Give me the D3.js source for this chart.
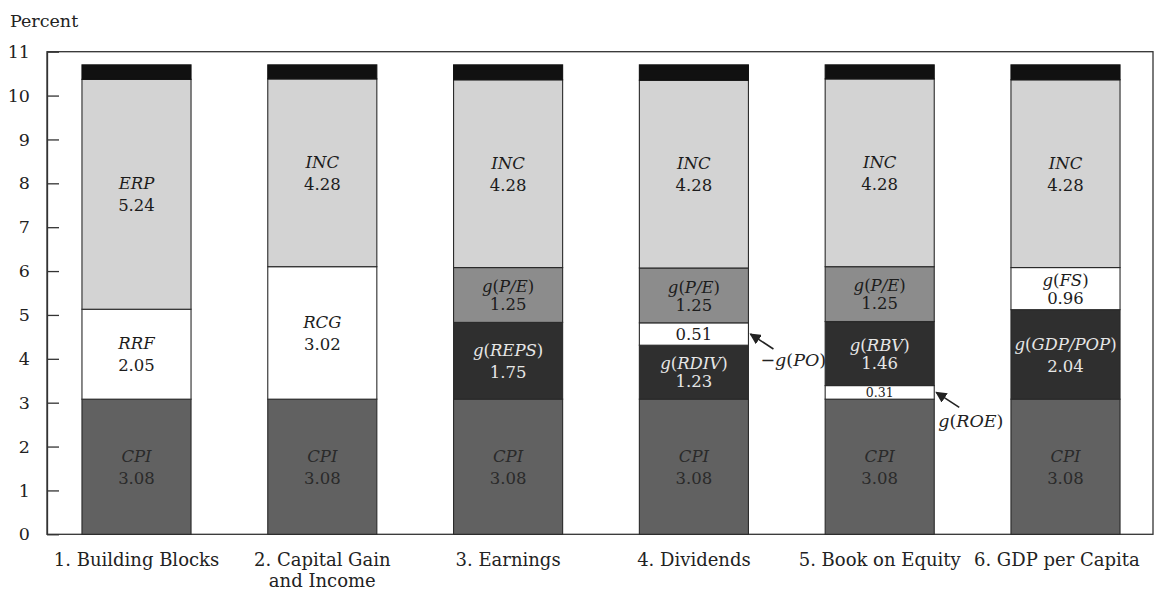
<!DOCTYPE html>
<html>
<head>
<meta charset="utf-8">
<script src="https://cdn.jsdelivr.net/npm/d3@7"></script>
<style>
  html, body { margin: 0; padding: 0; background: #ffffff; }
  svg { display: block; }
  text { font-family: "DejaVu Serif", "Liberation Serif", serif; }
</style>
</head>
<body>
<svg id="chart" width="1155" height="593"></svg>
<script>
// ---------- DATA ----------
const categories = [
  "1. Building Blocks",
  "2. Capital Gain\nand Income",
  "3. Earnings",
  "4. Dividends",
  "5. Book on Equity",
  "6. GDP per Capita"
];
// segments listed bottom to top for each bar
const segmentLabels = [
  ["CPI", "RRF", "ERP"],
  ["CPI", "RCG", "INC"],
  ["CPI", "g(REPS)", "g(P/E)", "INC"],
  ["CPI", "g(RDIV)", "−g(PO)", "g(P/E)", "INC"],
  ["CPI", "g(ROE)", "g(RBV)", "g(P/E)", "INC"],
  ["CPI", "g(GDP/POP)", "g(FS)", "INC"]
];
const segmentValues = [
  [3.08, 2.05, 5.24],
  [3.08, 3.02, 4.28],
  [3.08, 1.75, 1.25, 4.28],
  [3.08, 1.23, 0.51, 1.25, 4.28],
  [3.08, 0.31, 1.46, 1.25, 4.28],
  [3.08, 2.04, 0.96, 4.28]
];
// unlabelled black cap on top of every bar
const topValues = [0.33, 0.32, 0.34, 0.35, 0.32, 0.34];
const yTicks = [0, 1, 2, 3, 4, 5, 6, 7, 8, 9, 10, 11];
const yLabel = "Percent";
// segments whose names are shown outside with an arrow: [bar index, segment index]
const annotations = [[3, 2], [4, 1]];

// ---------- STYLE ----------
const tone = {
  cpi: "#616161", white: "#ffffff", light: "#d3d3d3",
  mid: "#8c8c8c", dark: "#2f2f2f", cap: "#111111"
};
function toneOf(label) {
  if (label === "CPI") return "cpi";
  if (["RRF", "RCG", "−g(PO)", "g(ROE)", "g(FS)"].includes(label)) return "white";
  if (["ERP", "INC"].includes(label)) return "light";
  if (label === "g(P/E)") return "mid";
  return "dark";
}
function textColor(t) {
  if (t === "dark") return "#e6e6e6";
  if (t === "cpi") return "#2a2a2a";
  return "#1c1c1c";
}

// ---------- LAYOUT ----------
const svg = d3.select("#chart");
const plotLeft = 47, plotRight = 1153;
const y = d3.scaleLinear().domain([0, 11]).range([534.3, 51.7]);
const x = d3.scaleBand().domain(categories).range([43.6, 1158.4])
  .paddingInner(0.413).paddingOuter(0.2065);
const bw = x.bandwidth();
const FS = 16.5;

// frame
svg.append("rect")
  .attr("x", plotLeft).attr("y", y(11))
  .attr("width", plotRight - plotLeft).attr("height", y(0) - y(11))
  .attr("fill", "none").attr("stroke", "#333").attr("stroke-width", 1.3);

// y axis
const yAxis = d3.axisLeft(y).tickValues(yTicks).tickFormat(d3.format("d"))
  .tickSizeInner(-12).tickSizeOuter(0).tickPadding(17);
const gy = svg.append("g").attr("transform", `translate(${plotLeft},0)`).call(yAxis);
gy.select(".domain").attr("stroke", "#333").attr("stroke-width", 1.3);
gy.selectAll(".tick line").attr("stroke", "#333").attr("stroke-width", 1.3);
gy.selectAll(".tick text").attr("fill", "#222").style("font-size", "17.5px")
  .style("font-family", "'DejaVu Serif', serif");

svg.append("text").attr("x", 10).attr("y", 27).attr("fill", "#222")
  .style("font-size", "17.5px").text(yLabel);

// label renderer with italic variables and upright parentheses
function renderName(sel, label) {
  const m = label.match(/^(−?)g\((.*)\)$/);
  if (m) {
    if (m[1]) sel.append("tspan").text(m[1]);
    sel.append("tspan").style("font-style", "italic").text("g");
    sel.append("tspan").text("(");
    sel.append("tspan").style("font-style", "italic").text(m[2]);
    sel.append("tspan").text(")");
  } else {
    sel.append("tspan").style("font-style", "italic").text(label);
  }
}

// bars
categories.forEach((cat, i) => {
  const g = svg.append("g");
  const x0 = x(cat);
  const cx = x0 + bw / 2;
  let base = 0;
  const segs = segmentValues[i].map((v, j) => {
    const s = { label: segmentLabels[i][j], value: v, y0: base, y1: base + v };
    base += v;
    return s;
  });
  const capSeg = { y0: base, y1: base + topValues[i] };

  segs.forEach(s => {
    g.append("rect")
      .attr("x", x0).attr("width", bw)
      .attr("y", y(s.y1)).attr("height", y(s.y0) - y(s.y1))
      .attr("fill", tone[toneOf(s.label)])
      .attr("stroke", "#2a2a2a").attr("stroke-width", 1.1);
  });
  g.append("rect")
    .attr("x", x0).attr("width", bw)
    .attr("y", y(capSeg.y1)).attr("height", y(capSeg.y0) - y(capSeg.y1))
    .attr("fill", tone.cap).attr("stroke", "#111").attr("stroke-width", 1.1);

  segs.forEach((s, j) => {
    const t = toneOf(s.label);
    const cy = y((s.y0 + s.y1) / 2);
    const col = textColor(t);
    const fmt = d3.format(".2f")(s.value);
    if (s.value >= 0.9) {
      const gap = s.value < 1.5 ? 18 : 22;
      const t1 = g.append("text").attr("x", cx).attr("y", cy - gap / 2 + 6.2)
        .attr("text-anchor", "middle").attr("fill", col).style("font-size", FS + "px");
      renderName(t1, s.label);
      g.append("text").attr("x", cx).attr("y", cy + gap / 2 + 6.2)
        .attr("text-anchor", "middle").attr("fill", col).style("font-size", FS + "px")
        .text(fmt);
    } else {
      const fs = s.value < 0.4 ? 12.5 : FS;
      g.append("text").attr("x", cx).attr("y", cy + fs * 0.36)
        .attr("text-anchor", "middle").attr("fill", col).style("font-size", fs + "px")
        .text(fmt);
    }
  });

  // category label: one text element, lines as tspans; kept inside the frame on the right
  const lines = cat.split("\n");
  const tx = svg.append("text").attr("y", 566)
    .attr("text-anchor", "middle").attr("fill", "#222").style("font-size", "18px");
  lines.forEach((ln, k) => {
    tx.append("tspan").attr("x", cx).attr("dy", k === 0 ? 0 : 21).text(ln);
  });
  const bb = tx.node().getBBox();
  if (bb.x + bb.width > 1140) {
    const shift = bb.x + bb.width - 1140;
    tx.selectAll("tspan").attr("x", cx - shift);
  }
});

// arrow annotations
svg.append("defs").append("marker")
  .attr("id", "arrow").attr("viewBox", "0 0 10 10")
  .attr("refX", 9).attr("refY", 5).attr("markerWidth", 7).attr("markerHeight", 7)
  .attr("orient", "auto-start-reverse")
  .append("path").attr("d", "M0,0 L10,5 L0,10 Z").attr("fill", "#222");

const labelOffsets = [[10, 32], [2, 35]];
annotations.forEach(([bi, si], k) => {
  const cat = categories[bi];
  let lo = 0;
  for (let j = 0; j < si; j++) lo += segmentValues[bi][j];
  const mid = lo + segmentValues[bi][si] / 2;
  const hx = x(cat) + bw + 2, hy = y(mid);
  svg.append("line")
    .attr("x1", hx + 23).attr("y1", hy + 15)
    .attr("x2", hx).attr("y2", hy)
    .attr("stroke", "#222").attr("stroke-width", 1.6)
    .attr("marker-end", "url(#arrow)");
  const t = svg.append("text")
    .attr("x", hx + labelOffsets[k][0]).attr("y", hy + labelOffsets[k][1])
    .attr("fill", "#222").style("font-size", "17.5px");
  renderName(t, segmentLabels[bi][si]);
});
</script>
</body>
</html>
